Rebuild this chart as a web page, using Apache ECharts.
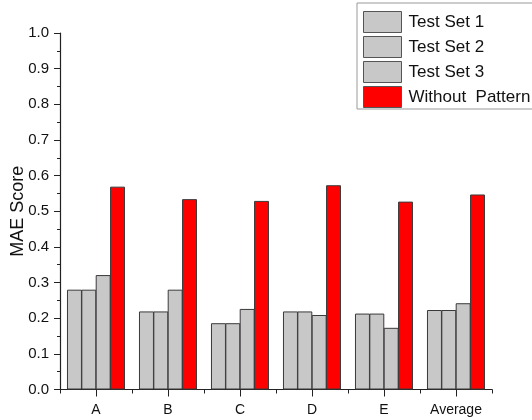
<!DOCTYPE html>
<html><head><meta charset="utf-8">
<script src="https://cdn.jsdelivr.net/npm/echarts@6/dist/echarts.min.js"></script>
<style>html,body{margin:0;padding:0;background:#fff}#c{width:532px;height:420px}</style>
</head><body><div id="c"></div>
<script>
var categories = ['A', 'B', 'C', 'D', 'E', 'Average'];
var testSet1 = [0.280, 0.219, 0.186, 0.219, 0.213, 0.223];
var testSet2 = [0.280, 0.219, 0.186, 0.219, 0.213, 0.223];
var testSet3 = [0.321, 0.280, 0.226, 0.209, 0.173, 0.242];
var withoutPattern = [0.569, 0.534, 0.529, 0.573, 0.527, 0.547];
var seriesNames = ['Test Set 1', 'Test Set 2', 'Test Set 3', 'Without  Pattern'];
var yTicks = [0, 1, 0.1];

var font = 'Liberation Sans, Arial, sans-serif';
var chart = echarts.init(document.getElementById('c'), null, {renderer: 'canvas'});
function bar(name, data, color) {
  return {
    name: name, type: 'bar', data: data, xAxisIndex: 0,
    barGap: '-4%', barCategoryGap: '19.4%',
    itemStyle: {color: color, borderColor: '#3a3a3a', borderWidth: 1}
  };
}
chart.setOption({
  animation: false,
  grid: {left: 60, right: 40, top: 33, bottom: 30.5, containLabel: false, outerBoundsMode: 'none'},
  legend: {
    orient: 'vertical', left: 357, top: 3,
    itemWidth: 38, itemHeight: 21, itemGap: 3,
    padding: [8, 8, 1, 6],
    borderColor: '#999', borderWidth: 1,
    textStyle: {fontFamily: font, fontSize: 17, lineHeight: 21, color: '#111', padding: [0, 0, 0, 2]},
    icon: 'rect',
    itemStyle: {borderColor: '#555', borderWidth: 1},
    data: seriesNames
  },
  xAxis: [{
    type: 'category', data: categories, position: 'bottom',
    axisLine: {show: true, lineStyle: {color: '#222', width: 1.2}},
    axisTick: {show: true, alignWithLabel: true, length: 7, inside: false, lineStyle: {color: '#222'}},
    axisLabel: {fontFamily: font, fontSize: 14, color: '#111', margin: 14}
  }, {
    type: 'category', data: categories, position: 'bottom', gridIndex: 0,
    axisLine: {show: false},
    axisTick: {show: true, length: 4, lineStyle: {color: '#222'}},
    axisLabel: {show: false}
  }],
  yAxis: {
    type: 'value', min: yTicks[0], max: yTicks[1], interval: yTicks[2],
    name: 'MAE Score', nameLocation: 'middle', nameGap: 33, nameMoveOverlap: false,
    nameTextStyle: {fontFamily: font, fontSize: 18, color: '#111'},
    axisLine: {show: true, lineStyle: {color: '#222', width: 1.2}},
    axisTick: {show: true, length: 6, lineStyle: {color: '#222'}},
    minorTick: {show: true, splitNumber: 2, length: 3, lineStyle: {color: '#222'}},
    splitLine: {show: false},
    axisLabel: {fontFamily: font, fontSize: 15, color: '#111', margin: 11,
      formatter: function (v) { return v.toFixed(1); }}
  },
  series: [
    bar(seriesNames[0], testSet1, '#c8c8c8'),
    bar(seriesNames[1], testSet2, '#c8c8c8'),
    bar(seriesNames[2], testSet3, '#c8c8c8'),
    bar(seriesNames[3], withoutPattern, '#ff0000')
  ]
});
</script></body></html>
